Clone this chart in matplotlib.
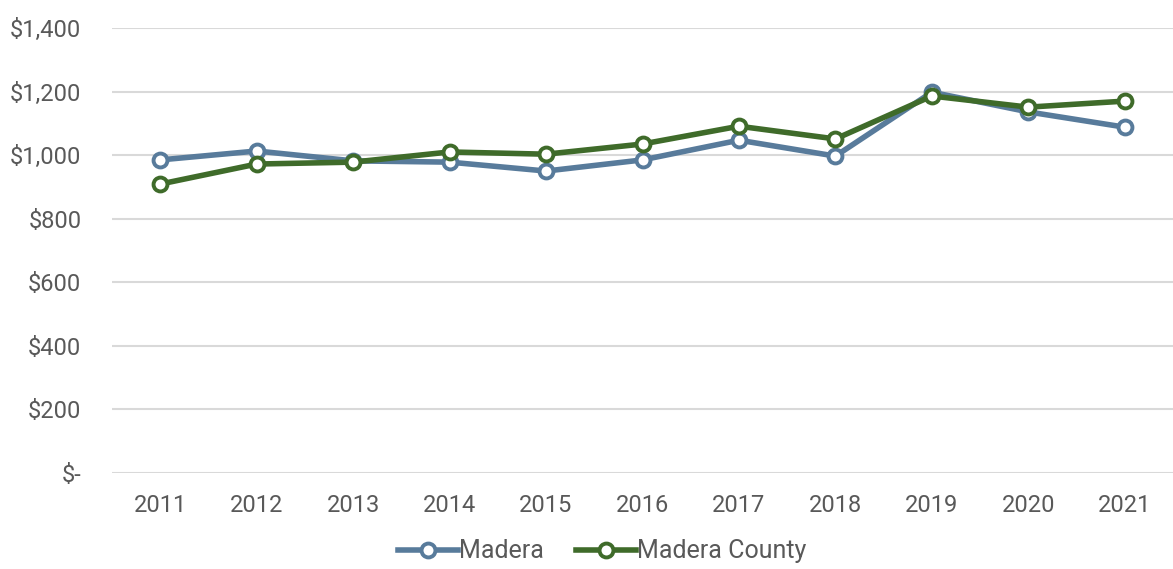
import matplotlib
matplotlib.use('Agg')
import matplotlib.pyplot as plt
from matplotlib.ticker import FuncFormatter

years = ['2011', '2012', '2013', '2014', '2015', '2016', '2017', '2018', '2019', '2020', '2021']
madera = [985, 1013, 982, 978, 950, 985, 1047, 997, 1198, 1136, 1088]
madera_county = [909, 972, 978, 1010, 1003, 1035, 1091, 1051, 1186, 1151, 1170]

plt.rcParams['font.family'] = ['Roboto', 'DejaVu Sans']

fig = plt.figure(figsize=(11.73, 5.69), dpi=100)
ax = fig.add_axes([0.0955, 0.1687, 0.9045, 0.7821])

x = range(len(years))
ax.plot(x, madera, '-o', color='#587B9B', lw=4, ms=10, mfc='white', mew=2.8,
        label='Madera', zorder=3)
ax.plot(x, madera_county, '-o', color='#3F6B2A', lw=4, ms=10, mfc='white', mew=2.8,
        label='Madera County', zorder=4)

ax.set_xlim(-0.5, len(years) - 0.5)
ax.set_ylim(0, 1400)
ax.set_yticks(range(0, 1401, 200))
ax.set_xticks(list(x))
ax.set_xticklabels(years)
ax.yaxis.set_major_formatter(FuncFormatter(lambda v, p: '$-' if v == 0 else '${:,.0f}'.format(v)))

ax.grid(axis='y', color='#D9D9D9', lw=1.5)
ax.set_axisbelow(True)
for s in ax.spines.values():
    s.set_visible(False)
ax.tick_params(axis='both', length=0, labelsize=17, colors='#595959')
ax.tick_params(axis='y', pad=22)
ax.tick_params(axis='x', pad=15)

leg = ax.legend(loc='upper center', bbox_to_anchor=(0.462, -0.11), ncol=2, frameon=False,
                fontsize=18, handlelength=2.4, handletextpad=0.05, columnspacing=1.3,
                borderpad=0.2)
for t in leg.get_texts():
    t.set_color('#595959')

fig.savefig('out.png', dpi=100)
